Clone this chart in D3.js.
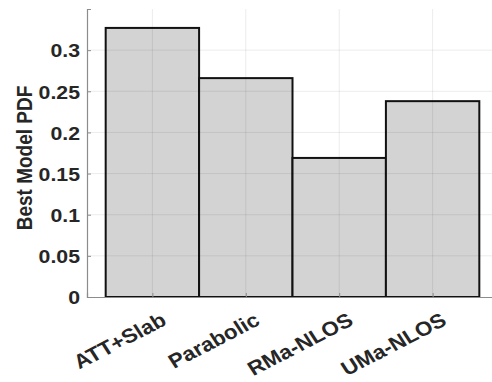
<!DOCTYPE html>
<html>
<head>
<meta charset="utf-8">
<script src="https://cdn.jsdelivr.net/npm/d3@7"></script>
<style>
  body { margin: 0; background: #fff; }
  text { font-family: "Liberation Sans", Arial, Helvetica, sans-serif; font-weight: bold; fill: #262626; }
</style>
</head>
<body>
<svg width="492" height="382"></svg>
<script>
var categories = ["ATT+Slab", "Parabolic", "RMa-NLOS", "UMa-NLOS"];
var values = [0.327, 0.266, 0.169, 0.238];
var yTicks = [0, 0.05, 0.1, 0.15, 0.2, 0.25, 0.3];

var svg = d3.select("svg"),
    plotLeft = 87, plotRight = 498, plotTop = 9, plotBottom = 297;

// the source image is a bit stretched sideways, text follows it
var stretch = 1.12;

var x = d3.scaleLinear()
    .domain([0.3, 4.7])
    .range([plotLeft, plotRight]);

var y = d3.scaleLinear()
    .domain([0, 0.35])
    .range([plotBottom, plotTop]);

// bars
svg.append("g").selectAll("rect")
  .data(values)
  .enter().append("rect")
    .attr("x", function(d, i) { return x(i + 0.5); })
    .attr("width", function(d, i) { return x(i + 1.5) - x(i + 0.5); })
    .attr("y", function(d) { return y(d); })
    .attr("height", function(d) { return y(0) - y(d); })
    .attr("fill", "#d3d3d3")
    .attr("stroke", "#111")
    .attr("stroke-width", 2);

// grid (drawn over the bars, faint)
var grid = svg.append("g")
    .attr("stroke", "#000")
    .attr("stroke-opacity", 0.08);
grid.selectAll(".gy")
  .data(yTicks.slice(1))
  .enter().append("line")
    .attr("x1", plotLeft).attr("x2", plotRight)
    .attr("y1", function(d) { return y(d); })
    .attr("y2", function(d) { return y(d); });
grid.selectAll(".gx")
  .data(categories)
  .enter().append("line")
    .attr("x1", function(d, i) { return x(i + 1); })
    .attr("x2", function(d, i) { return x(i + 1); })
    .attr("y1", plotTop).attr("y2", plotBottom);

// y axis
var yAxis = svg.append("g")
    .attr("transform", "translate(" + plotLeft + ",0)")
    .call(d3.axisRight(y)
      .tickValues(yTicks)
      .tickSize(4)
      .tickFormat(function(d) { return d3.format("")(d); }));
yAxis.select(".domain").attr("stroke", "#8c8c8c").attr("stroke-width", 1.2);
yAxis.selectAll(".tick line").attr("stroke", "#8c8c8c");
yAxis.selectAll(".tick text")
    .attr("x", -7 / stretch)
    .attr("transform", "scale(" + stretch + ",1)")
    .attr("text-anchor", "end")
    .attr("font-size", 19)
    .attr("fill", "#262626")
    .attr("dy", "0.36em");

// x axis
var xAxis = svg.append("g")
    .attr("transform", "translate(0," + plotBottom + ")")
    .call(d3.axisTop(x)
      .tickValues([1, 2, 3, 4])
      .tickSize(4)
      .tickFormat(""));
xAxis.select(".domain").attr("stroke", "#8c8c8c").attr("stroke-width", 1.2);
xAxis.selectAll(".tick line").attr("stroke", "#8c8c8c");

svg.append("g").selectAll("text")
  .data(categories)
  .enter().append("text")
    .attr("transform", function(d, i) {
      return "translate(" + (x(i + 1) + 7) + "," + (plotBottom + 14) + ") scale(" + stretch + ",1) rotate(-30)";
    })
    .attr("text-anchor", "end")
    .attr("dy", "0.75em")
    .attr("font-size", 20)
    .text(function(d) { return d; });

svg.append("text")
    .attr("transform", "translate(32," + ((plotTop + plotBottom) / 2 + 5) + ") scale(" + stretch + ",1) rotate(-90)")
    .attr("text-anchor", "middle")
    .attr("font-size", 19)
    .text("Best Model PDF");
</script>
</body>
</html>
